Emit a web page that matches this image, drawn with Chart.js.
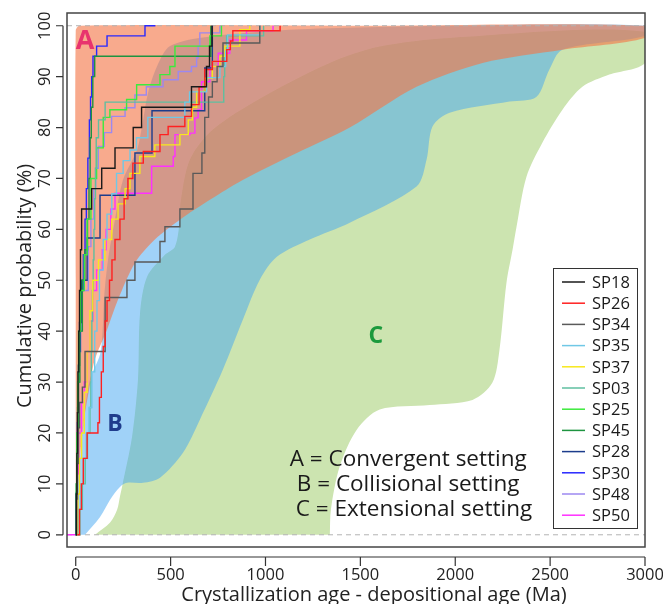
<!DOCTYPE html>
<html>
<head>
<meta charset="utf-8">
<script src="https://cdn.jsdelivr.net/npm/chart.js@4.4.0/dist/chart.umd.min.js"></script>
<style>
  html, body { margin: 0; padding: 0; background: #fff; }
</style>
</head>
<body>
<canvas id="myChart" width="663" height="604"></canvas>
<script>
// sample names and line colours (legend order)
const sampleNames = ['SP18', 'SP26', 'SP34', 'SP35', 'SP37', 'SP03', 'SP25', 'SP45', 'SP28', 'SP30', 'SP48', 'SP50'];
const sampleColors = ['#1a1a1a', '#ff2020', '#5a5a5a', '#70c8e6', '#f7e81c', '#5fbfa0',
                      '#3cea3c', '#1e9440', '#1c3c8c', '#2828ff', '#9c88f0', '#ff30ff'];

// cumulative curves, [crystallization - depositional age (Ma), cumulative %]
const sp18 = [[0,0],[3,8],[6,16],[9,24],[12,32],[16,40],[20,48],[25,56],[31,64],[84,68],[137,72],[207,76],[303,80],[347,84],[610,88],[689,92],[705,96],[718,100]];
const sp26 = [[8,0],[20,5],[30,10],[40,15],[60,20],[117,22],[125,27],[135,32],[145,37],[155,42],[165,46],[178,50],[191,54],[207,58],[233,62],[255,66],[275,70],[301,73],[356,75.3],[444,78.6],[487,80.2],[575,82.2],[610,84.5],[650,88],[680,91.4],[720,93],[796,95.3],[815,97],[828,99],[1077,100]];
const sp34 = [[2,0],[5,7],[9,14],[14,21],[20,26],[35,29],[49,36],[155,46.6],[270,50],[312,53.6],[444,57.6],[470,60.5],[549,64],[618,71],[665,75],[680,82],[700,86],[720,89],[745,92],[776,96.6],[970,100]];
const sp35 = [[10,0],[18,5],[28,10],[40,15],[55,20],[70,25],[85,32],[100,40],[112,46],[125,52],[145,58],[165,63],[190,67],[215,71],[250,73.5],[286,75.6],[320,78],[380,82],[565,82],[575,85],[600,87],[690,89.8],[760,92],[790,95],[800,98.2],[970,100]];
const sp37 = [[5,0],[12,8],[20,15],[31,20],[45,28],[60,36],[75,44],[90,50],[120,54],[154,58],[190,62],[223,65],[260,68],[286,71],[338,74.3],[417,76.6],[549,78.6],[593,81.5],[615,84],[637,87.1],[681,89.7],[720,92],[760,94],[786,96],[865,99.2],[917,100]];
const sp03 = [[12,0],[22,5],[35,10],[50,15],[62,20],[75,25],[80,30],[82,36],[85,42],[88,48],[92,54],[96,60],[100,66],[104,72],[108,78],[120,81.5],[155,85],[775,85],[780,90],[785,95],[795,98],[990,100]];
const sp25 = [[0,0],[3,10],[6,20],[10,30],[15,40],[25,48],[45,55],[60,62],[80,70],[110,76],[145,82],[180,83.5],[268,85.5],[321,88.4],[444,90.4],[496,92],[523,96],[707,98],[768,100]];
const sp45 = [[0,0],[4,10],[8,20],[14,30],[22,40],[35,50],[48,56],[62,62],[70,70],[76,78],[82,84],[90,90],[100,94],[707,94],[712,100]];
const sp28 = [[0,0],[3,8.3],[6,16.7],[10,25],[14,33.3],[20,41.7],[30,50],[60,58.3],[128,66.7],[312,75],[402,83.3],[680,91.7],[720,100]];
const sp30 = [[0,0],[2,8],[5,15],[9,22],[14,30],[18,36],[25,42],[32,48],[40,55],[49,62],[56,68],[64,74],[72,81.5],[78,86],[84,90],[91,94],[110,96],[165,98],[365,100],[420,100]];
const sp48 = [[0,0],[3,10],[6,20],[10,30],[16,40],[30,48],[66,56.6],[80,62],[95,68],[105,72],[119,76.3],[150,79],[189,82.2],[260,83.9],[312,86.4],[372,88],[460,89.4],[540,91],[610,92],[637,93.7],[645,96],[654,98.6],[760,100]];
const sp50 = [[-46,0],[3,5],[8,12],[15,20],[30,26],[45,30],[60,36],[75,42],[90,48],[110,52],[140,56],[160,60],[185,64],[207,67.1],[400,72.4],[514,74.3],[523,78.6],[602,78.9],[628,81.9],[645,83.5],[663,89],[707,92],[751,94.6],[812,97.2],[900,99],[1040,100]];
const samples = [sp18, sp26, sp34, sp35, sp37, sp03, sp25, sp45, sp28, sp30, sp48, sp50];

// setting envelopes: upper (young) edge then lower (old) edge, [age (Ma), %]
const convergentUpper = [[0,0],[0,50],[0,99],[20,100],[1500,100],[3000,100]];
const convergentLower = [[3000,97.6],[2565,95.3],[2144,92.7],[1796,88],[1444,80],[1165,75],[880,69.7],[707,65.8],[549,61.9],[417,58],[312,53.4],[223,46.2],[165,40.3],[100,34.4],[80,30.5],[44,22.6],[17,12.8],[2,0]];
const collisionalUpper = [[0,0],[8,8],[25,16],[42,22.6],[75,30.5],[128,35.4],[142,40.3],[150,46.8],[170,54],[207,62],[249,69.7],[323,75.6],[349,80.2],[381,86.8],[428,92],[497,96],[692,97.8],[1181,99.3],[2000,100],[3000,100]];
const collisionalLower = [[3000,98],[2565,95.3],[2496,91.4],[2427,86],[2286,85.1],[1970,82.9],[1880,80.2],[1849,73.7],[1796,68.4],[1444,61.3],[1233,58],[1060,54.6],[970,50.1],[880,42.2],[775,32.4],[654,22.6],[565,16.1],[444,11.2],[354,10.2],[270,10.2],[233,9.4],[181,6.9],[128,3.5],[49,0]];
const extensionalUpper = [[102,0],[181,2.4],[218,4.9],[233,7.5],[244,9.4],[297,19.3],[328,30.5],[339,43.6],[376,50.7],[470,55],[523,56.6],[549,61.9],[552,65.2],[602,73.7],[723,79.6],[986,86],[1339,92.7],[1602,95.9],[1970,97.6],[3000,98.8]];
const extensionalLower = [[3000,92.7],[2812,90.4],[2670,88],[2565,83.5],[2459,77],[2375,70.3],[2323,60.5],[2302,56],[2270,49.5],[2233,36.3],[2196,29.9],[2091,26.5],[1865,25.5],[1602,24.6],[1480,20.6],[1391,13.4],[1345,5],[1339,0]];

// axes
const xTicks = [0, 500, 1000, 1500, 2000, 2500, 3000];
const yTicks = [0, 10, 20, 30, 40, 50, 60, 70, 80, 90, 100];
const xLimits = [-46, 3000];
const yLimits = [-2.4, 102.5];
const guideLevels = [0, 100];
const settingLabels = ['A = Convergent setting', 'B = Collisional setting', 'C = Extensional setting'];

const FONT = '"Open Sans", Lato, sans-serif';
const toPts = arr => arr.map(([x, y]) => ({x, y}));

const datasets = samples.map((s, i) => ({
  label: sampleNames[i],
  isSample: true,
  data: toPts(s),
  borderColor: sampleColors[i],
  borderWidth: 1.4,
  stepped: true,
  pointRadius: 0,
  fill: false,
  order: 0
}));

guideLevels.forEach(v => datasets.push({
  label: 'guide',
  data: xLimits.map(x => ({x, y: v})),
  borderColor: '#b3b3b3',
  borderWidth: 1,
  borderDash: [5, 4],
  pointRadius: 0,
  fill: false,
  order: 1
}));

function envelope(name, upper, lower, color, order) {
  return {
    label: name,
    data: toPts(upper.concat(lower)),
    backgroundColor: color,
    borderColor: 'rgba(0,0,0,0)',
    borderWidth: 0,
    pointRadius: 0,
    tension: 0.3,
    fill: 'shape',
    order: order
  };
}
datasets.push(envelope('A', convergentUpper, convergentLower, 'rgba(243,118,71,0.62)', 2));
datasets.push(envelope('B', collisionalUpper, collisionalLower, 'rgba(65,165,241,0.5)', 3));
datasets.push(envelope('C', extensionalUpper, extensionalLower, '#cce4b0', 4));

// R-style frame, axes and titles
const rAxes = {
  id: 'rAxes',
  afterDraw(chart) {
    const {ctx, chartArea: a, scales: {x, y}} = chart;
    ctx.save();
    ctx.strokeStyle = '#444';
    ctx.lineWidth = 1.5;
    ctx.strokeRect(a.left, a.top, a.right - a.left, a.bottom - a.top);

    ctx.lineWidth = 1.2;
    ctx.strokeStyle = '#333';
    const ax = a.bottom + 10;
    ctx.beginPath();
    ctx.moveTo(x.getPixelForValue(xTicks[0]), ax);
    ctx.lineTo(x.getPixelForValue(xTicks[xTicks.length - 1]), ax);
    xTicks.forEach(v => {
      const px = x.getPixelForValue(v);
      ctx.moveTo(px, ax);
      ctx.lineTo(px, ax + 9);
    });
    const ay = a.left - 4;
    ctx.moveTo(ay, y.getPixelForValue(yTicks[0]));
    ctx.lineTo(ay, y.getPixelForValue(yTicks[yTicks.length - 1]));
    yTicks.forEach(v => {
      const py = y.getPixelForValue(v);
      ctx.moveTo(ay, py);
      ctx.lineTo(ay - 7, py);
    });
    ctx.stroke();

    ctx.fillStyle = '#222';
    ctx.font = '16.5px ' + FONT;
    ctx.textAlign = 'center';
    ctx.textBaseline = 'middle';
    xTicks.forEach(v => ctx.fillText(String(v), x.getPixelForValue(v), ax + 18));
    yTicks.forEach(v => {
      ctx.save();
      ctx.translate(ay - 18, y.getPixelForValue(v));
      ctx.rotate(-Math.PI / 2);
      ctx.fillText(String(v), 0, 0);
      ctx.restore();
    });

    ctx.font = '20px ' + FONT;
    ctx.textBaseline = 'alphabetic';
    ctx.fillText('Crystallization age - depositional age (Ma)', 374, 601);
    ctx.save();
    ctx.translate(31, (a.top + a.bottom) / 2 + 6);
    ctx.rotate(-Math.PI / 2);
    ctx.fillText('Cumulative probability (%)', 0, 0);
    ctx.restore();
    ctx.restore();
  }
};

// envelope letters and key text
const settingText = {
  id: 'settingText',
  afterDatasetsDraw(chart) {
    const {ctx, scales: {x, y}} = chart;
    ctx.save();
    ctx.textAlign = 'center';
    ctx.textBaseline = 'middle';
    ctx.font = 'bold 27px ' + FONT;
    ctx.fillStyle = '#e8336e';
    ctx.fillText('A', x.getPixelForValue(49), y.getPixelForValue(96.9));
    ctx.font = 'bold 23px ' + FONT;
    ctx.fillStyle = '#1f3c8c';
    ctx.fillText('B', x.getPixelForValue(207), y.getPixelForValue(21.6));
    ctx.fillStyle = '#1b9a3c';
    ctx.fillText('C', x.getPixelForValue(1581), y.getPixelForValue(38.9));

    ctx.font = '22.5px ' + FONT;
    ctx.fillStyle = '#1a1a1a';
    ctx.textAlign = 'left';
    const keyX = [1128, 1165, 1160];
    const keyY = [14.7, 9.8, 4.9];
    settingLabels.forEach((t, i) => ctx.fillText(t, x.getPixelForValue(keyX[i]), y.getPixelForValue(keyY[i])));
    ctx.restore();
  }
};

// boxed legend inside the plot, bottom right
const sampleLegend = {
  id: 'sampleLegend',
  afterDraw(chart) {
    const {ctx} = chart;
    const items = chart.data.datasets.filter(d => d.isSample);
    const left = 553, top = 268, w = 84, h = 260, rowH = 21.2, first = 282;
    ctx.save();
    ctx.fillStyle = '#fff';
    ctx.fillRect(left, top, w, h);
    ctx.strokeStyle = '#333';
    ctx.lineWidth = 1;
    ctx.strokeRect(left + 0.5, top + 0.5, w, h);
    ctx.font = '16.5px ' + FONT;
    ctx.textBaseline = 'middle';
    ctx.textAlign = 'left';
    items.forEach((d, i) => {
      const py = first + i * rowH;
      ctx.strokeStyle = d.borderColor;
      ctx.lineWidth = 1.5;
      ctx.beginPath();
      ctx.moveTo(left + 9, py);
      ctx.lineTo(left + 32, py);
      ctx.stroke();
      ctx.fillStyle = '#1a1a1a';
      ctx.fillText(d.label, left + 39, py + 1);
    });
    ctx.restore();
  }
};

const myChart = new Chart(document.getElementById('myChart').getContext('2d'), {
  type: 'line',
  data: { datasets: datasets },
  options: {
    responsive: false,
    animation: false,
    events: [],
    layout: { padding: { left: 67, top: 13, right: 18, bottom: 57 } },
    scales: {
      x: { type: 'linear', min: xLimits[0], max: xLimits[1], display: false },
      y: { type: 'linear', min: yLimits[0], max: yLimits[1], display: false }
    },
    plugins: {
      legend: { display: false },
      tooltip: { enabled: false }
    }
  },
  plugins: [settingText, rAxes, sampleLegend]
});
</script>
</body>
</html>
